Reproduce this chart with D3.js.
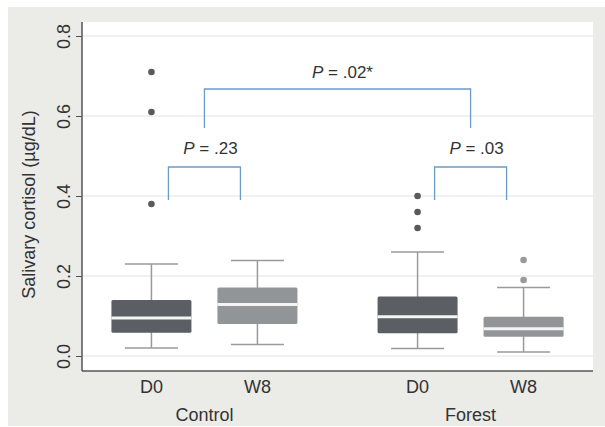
<!DOCTYPE html>
<html>
<head>
<meta charset="utf-8">
<script src="https://cdn.jsdelivr.net/npm/d3@7"></script>
<style>
  body { margin: 0; background: #fff; }
  svg text { font-family: "Liberation Sans", Arial, sans-serif; fill: #333; }
</style>
</head>
<body>
<div class="main"></div>
<script>
////Data
const groups = ['Control', 'Forest'];
const times = ['D0', 'W8'];
const boxKeys = ['Control|D0', 'Control|W8', 'Forest|D0', 'Forest|W8'];
const whiskerLow = [0.02, 0.029, 0.019, 0.01];
const q1 = [0.058, 0.08, 0.057, 0.048];
const median = [0.095, 0.129, 0.098, 0.068];
const q3 = [0.14, 0.171, 0.149, 0.098];
const whiskerHigh = [0.23, 0.239, 0.26, 0.171];
const outliers = [[0.38, 0.61, 0.71], [], [0.32, 0.36, 0.40], [0.19, 0.24]];
const yTicks = [0, 0.2, 0.4, 0.6, 0.8];
const yTitle = 'Salivary cortisol (\u00b5g/dL)';
// pairwise comparisons [from, to, p-label, bracket top, leg bottom, label y]
const pairs = [
  ['Control|D0', 'Control|W8', '.23', 0.4725, 0.39, 0.52],
  ['Forest|D0', 'Forest|W8', '.03', 0.4725, 0.39, 0.52]
];
const groupPair = ['.02*', 0.6675, 0.57, 0.71];

////Globals
const width = 605;
const height = 427;
const plot = { left: 82, right: 593, top: 22, bottom: 371 };
const boxColor = { D0: '#5b5e62', W8: '#929597' };
const dotColor = { D0: '#5a5a5a', W8: '#9a9a9a' };
const blue = '#6b9bc8';
const fs = '18px';

const svg = d3.select('.main').append('svg')
  .attr('width', width)
  .attr('height', height);

svg.append('rect')
  .attr('x', 8).attr('y', 7)
  .attr('width', width - 8).attr('height', 419)
  .attr('fill', '#ebebe7');

svg.append('rect')
  .attr('x', plot.left).attr('y', plot.top)
  .attr('width', plot.right - plot.left).attr('height', plot.bottom - plot.top)
  .attr('fill', '#fff');

const y = d3.scaleLinear().domain([-0.0375, 0.835]).range([plot.bottom, plot.top]);
const xGroup = d3.scalePoint().domain(groups).range([plot.left, plot.right]).padding(0.46);
const xTime = d3.scalePoint().domain(times).range([-53, 53]);
const xc = key => {
  const [g, t] = key.split('|');
  return xGroup(g) + xTime(t);
};

// gridlines
svg.append('g')
  .selectAll('line')
  .data(yTicks)
  .enter()
  .append('line')
  .attr('x1', plot.left).attr('x2', plot.right)
  .attr('y1', d => y(d)).attr('y2', d => y(d))
  .attr('stroke', '#e4e4e4').attr('stroke-width', 1);

// y axis
const yAxis = svg.append('g')
  .attr('transform', `translate(${plot.left},0)`)
  .call(d3.axisLeft(y).tickValues(yTicks).tickFormat(d3.format('.1f')).tickSize(6).tickPadding(0));
yAxis.select('.domain').remove();
yAxis.selectAll('.tick line').attr('stroke', '#555');
yAxis.selectAll('.tick text')
  .attr('transform', 'rotate(-90)')
  .attr('x', 0).attr('y', -12)
  .attr('dy', 0)
  .attr('text-anchor', 'middle')
  .style('font-size', fs);

svg.append('line')
  .attr('x1', plot.left).attr('x2', plot.left)
  .attr('y1', plot.top).attr('y2', plot.bottom)
  .attr('stroke', '#555').attr('stroke-width', 1.5);
svg.append('line')
  .attr('x1', plot.left).attr('x2', plot.right)
  .attr('y1', plot.bottom).attr('y2', plot.bottom)
  .attr('stroke', '#555').attr('stroke-width', 1.5);

svg.append('text')
  .attr('transform', `translate(35,${(plot.top + plot.bottom) / 2 + 8}) rotate(-90)`)
  .attr('text-anchor', 'middle')
  .style('font-size', fs)
  .text(yTitle);

// x labels
svg.append('g')
  .selectAll('text')
  .data(boxKeys)
  .enter()
  .append('text')
  .attr('x', d => xc(d))
  .attr('y', 393)
  .attr('text-anchor', 'middle')
  .style('font-size', fs)
  .text(d => d.split('|')[1]);

svg.append('g')
  .selectAll('text')
  .data(groups)
  .enter()
  .append('text')
  .attr('x', d => xGroup(d))
  .attr('y', 421)
  .attr('text-anchor', 'middle')
  .style('font-size', fs)
  .text(d => d);

// boxes
const boxW = 80;
const capW = 53;
const boxes = svg.append('g')
  .selectAll('g')
  .data(boxKeys)
  .enter()
  .append('g');

boxes.append('line')
  .attr('x1', d => xc(d)).attr('x2', d => xc(d))
  .attr('y1', (d, i) => y(whiskerLow[i])).attr('y2', (d, i) => y(whiskerHigh[i]))
  .attr('stroke', '#9a9a9a').attr('stroke-width', 1.5);
[whiskerLow, whiskerHigh].forEach(arr => {
  boxes.append('line')
    .attr('x1', d => xc(d) - capW / 2).attr('x2', d => xc(d) + capW / 2)
    .attr('y1', (d, i) => y(arr[i])).attr('y2', (d, i) => y(arr[i]))
    .attr('stroke', '#9a9a9a').attr('stroke-width', 1.5);
});
boxes.append('rect')
  .attr('x', d => xc(d) - boxW / 2)
  .attr('y', (d, i) => y(q3[i]))
  .attr('width', boxW)
  .attr('height', (d, i) => y(q1[i]) - y(q3[i]))
  .attr('rx', 1.5)
  .attr('fill', d => boxColor[d.split('|')[1]]);
boxes.append('line')
  .attr('x1', d => xc(d) - boxW / 2).attr('x2', d => xc(d) + boxW / 2)
  .attr('y1', (d, i) => y(median[i])).attr('y2', (d, i) => y(median[i]))
  .attr('stroke', '#f4f4f4').attr('stroke-width', 3);

boxes.selectAll('circle')
  .data((d, i) => outliers[i].map(v => ({ key: d, v })))
  .enter()
  .append('circle')
  .attr('cx', d => xc(d.key))
  .attr('cy', d => y(d.v))
  .attr('r', 3.3)
  .attr('fill', d => dotColor[d.key.split('|')[1]]);

// brackets
const inset = 17;
const P = (sel, label) => {
  sel.append('tspan').style('font-style', 'italic').text('P');
  sel.append('tspan').text(' = ' + label);
};
const mids = [];
pairs.forEach(([a, b, label, top, bot, ly]) => {
  const x1 = xc(a) + inset;
  const x2 = xc(b) - inset;
  mids.push((x1 + x2) / 2);
  svg.append('path')
    .attr('d', d3.line()([[x1, y(bot)], [x1, y(top)], [x2, y(top)], [x2, y(bot)]]))
    .attr('fill', 'none').attr('stroke', blue).attr('stroke-width', 1.3);
  svg.append('text')
    .attr('x', (x1 + x2) / 2 + 6).attr('y', y(ly) + 6)
    .attr('text-anchor', 'middle')
    .style('font-size', '17px')
    .call(P, label);
});
{
  const [label, top, bot, ly] = groupPair;
  svg.append('path')
    .attr('d', d3.line()([[mids[0], y(bot)], [mids[0], y(top)], [mids[1], y(top)], [mids[1], y(bot)]]))
    .attr('fill', 'none').attr('stroke', blue).attr('stroke-width', 1.3);
  svg.append('text')
    .attr('x', (mids[0] + mids[1]) / 2 + 5).attr('y', y(ly) + 6)
    .attr('text-anchor', 'middle')
    .style('font-size', '17px')
    .call(P, label);
}
</script>
</body>
</html>
